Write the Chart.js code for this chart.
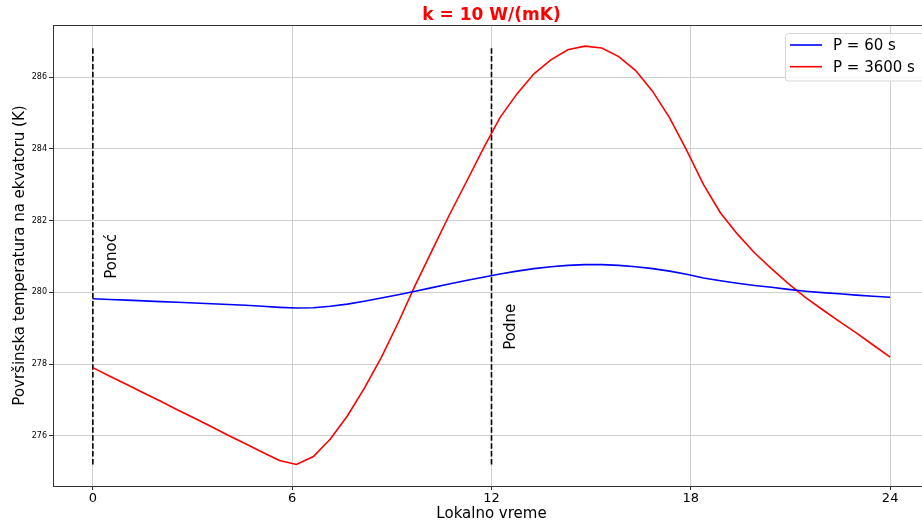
<!DOCTYPE html>
<html>
<head>
<meta charset="utf-8">
<script src="https://cdn.jsdelivr.net/npm/chart.js@4.4.0/dist/chart.umd.min.js"></script>
<style>
  html, body { margin: 0; padding: 0; background: #fff; overflow: hidden; }
  #okvir { position: relative; width: 922px; height: 524px; overflow: hidden; }
  #grafik { position: absolute; left: 0; top: 0; }
</style>
</head>
<body>
<div id="okvir"><canvas id="grafik" width="940" height="524"></canvas></div>
<script>
// vreme (h) - 48 tacaka od ponoci do ponoci
var sati = [0, 0.511, 1.021, 1.532, 2.043, 2.553, 3.064, 3.574, 4.085, 4.596, 5.106, 5.617,
  6.128, 6.638, 7.149, 7.66, 8.17, 8.681, 9.191, 9.702, 10.213, 10.723, 11.234, 11.745,
  12.255, 12.766, 13.277, 13.787, 14.298, 14.809, 15.319, 15.83, 16.34, 16.851, 17.362, 17.872,
  18.383, 18.894, 19.404, 19.915, 20.426, 20.936, 21.447, 21.957, 22.468, 22.979, 23.489, 24];

// temperatura (K) za P = 60 s
var temp60 = [279.82, 279.80, 279.78, 279.76, 279.74, 279.72, 279.70, 279.68, 279.66, 279.64, 279.61, 279.58,
  279.56, 279.57, 279.61, 279.67, 279.75, 279.84, 279.93, 280.03, 280.13, 280.23, 280.33, 280.42,
  280.51, 280.59, 280.66, 280.71, 280.75, 280.77, 280.77, 280.75, 280.71, 280.66, 280.59, 280.50,
  280.40, 280.32, 280.25, 280.19, 280.14, 280.08, 280.03, 279.99, 279.96, 279.92, 279.89, 279.86];

// temperatura (K) za P = 3600 s
var temp3600 = [277.90, 277.66, 277.43, 277.19, 276.96, 276.72, 276.49, 276.25, 276.01, 275.78, 275.54, 275.31,
  275.20, 275.42, 275.91, 276.55, 277.32, 278.18, 279.15, 280.19, 281.17, 282.14, 283.06, 283.99,
  284.87, 285.53, 286.09, 286.48, 286.76, 286.86, 286.81, 286.57, 286.18, 285.60, 284.86, 283.96,
  283.00, 282.21, 281.62, 281.10, 280.66, 280.24, 279.86, 279.52, 279.19, 278.87, 278.53, 278.19];

var serije = ['P = 60 s', 'P = 3600 s'];
var tickX = [0, 6, 12, 18, 24];
var tickY = [276, 278, 280, 282, 284, 286];
var vertikale = [0, 12];
var oznake = ['Ponoć', 'Podne'];
var naslov = 'k = 10 W/(mK)';

var FONT = "'DejaVu Sans', sans-serif";

function tacke(niz) {
  return sati.map(function(t, i) { return {x: t, y: niz[i]}; });
}

var donja = Math.min.apply(null, temp3600);
var gornja = Math.max.apply(null, temp3600);

var datasets = [
  {label: serije[0], data: tacke(temp60), borderColor: '#0000ff', borderWidth: 1.6},
  {label: serije[1], data: tacke(temp3600), borderColor: '#ff0000', borderWidth: 1.6}
];
vertikale.forEach(function(v) {
  datasets.push({
    label: '', data: [{x: v, y: donja}, {x: v, y: gornja}],
    borderColor: '#000', borderWidth: 1.6, borderDash: [5.5, 2.4]
  });
});

// natpisi, naslov, okvir i legenda
var dodaci = {
  id: 'dodaci',
  afterDatasetsDraw: function(chart) {
    var ctx = chart.ctx, sx = chart.scales.x, sy = chart.scales.y;
    var mesta = [[0.7, 280.38], [12.7, 278.4]];
    ctx.save();
    ctx.font = '15px ' + FONT;
    ctx.fillStyle = '#000';
    ctx.textAlign = 'left';
    ctx.textBaseline = 'alphabetic';
    oznake.forEach(function(txt, i) {
      ctx.save();
      ctx.translate(sx.getPixelForValue(mesta[i][0]), sy.getPixelForValue(mesta[i][1]));
      ctx.rotate(-Math.PI / 2);
      ctx.fillText(txt, 0, 0);
      ctx.restore();
    });
    ctx.restore();
  },
  afterDraw: function(chart) {
    var ctx = chart.ctx, a = chart.chartArea;
    ctx.save();
    // gornja ivica
    ctx.strokeStyle = '#333';
    ctx.lineWidth = 1;
    ctx.beginPath();
    ctx.moveTo(a.left, a.top + 0.5);
    ctx.lineTo(a.right, a.top + 0.5);
    ctx.stroke();
    // naslov
    ctx.fillStyle = '#ff0000';
    ctx.font = 'bold 17px ' + FONT;
    ctx.textAlign = 'center';
    ctx.textBaseline = 'alphabetic';
    ctx.fillText(naslov, (a.left + a.right) / 2, 20);
    // legenda
    var bx = 785.5, by = 33.5, bw = 150, bh = 47.5, r = 3;
    ctx.fillStyle = 'rgba(255,255,255,0.8)';
    ctx.strokeStyle = '#d6d6d6';
    ctx.beginPath();
    ctx.moveTo(bx + r, by);
    ctx.lineTo(bx + bw - r, by);
    ctx.arcTo(bx + bw, by, bx + bw, by + r, r);
    ctx.lineTo(bx + bw, by + bh - r);
    ctx.arcTo(bx + bw, by + bh, bx + bw - r, by + bh, r);
    ctx.lineTo(bx + r, by + bh);
    ctx.arcTo(bx, by + bh, bx, by + bh - r, r);
    ctx.lineTo(bx, by + r);
    ctx.arcTo(bx, by, bx + r, by, r);
    ctx.closePath();
    ctx.fill();
    ctx.stroke();
    ctx.font = '15px ' + FONT;
    ctx.textAlign = 'left';
    ctx.textBaseline = 'middle';
    for (var i = 0; i < serije.length; i++) {
      var yy = 45 + i * 21.7;
      ctx.strokeStyle = datasets[i].borderColor;
      ctx.lineWidth = 1.6;
      ctx.beginPath();
      ctx.moveTo(790, yy);
      ctx.lineTo(822, yy);
      ctx.stroke();
      ctx.fillStyle = '#000';
      ctx.fillText(serije[i], 833, yy + 1);
    }
    ctx.restore();
  }
};

var mreza = {color: '#cfcfcf', lineWidth: 1, tickLength: 4, tickColor: '#333'};

new Chart(document.getElementById('grafik'), {
  type: 'line',
  data: {datasets: datasets},
  plugins: [dodaci],
  options: {
    responsive: false,
    animation: false,
    layout: {padding: {left: 0, right: 10, top: 25, bottom: 0}},
    elements: {point: {radius: 0}, line: {tension: 0, fill: false}},
    plugins: {legend: {display: false}, title: {display: false}, tooltip: {enabled: false}},
    scales: {
      x: {
        type: 'linear', min: -1.2, max: 25.2,
        afterFit: function(s) { s.height = 38; },
        afterBuildTicks: function(s) { s.ticks = tickX.map(function(v) { return {value: v}; }); },
        grid: mreza,
        border: {color: '#333', width: 1},
        ticks: {font: {family: FONT, size: 13}, color: '#000', padding: 1, maxRotation: 0},
        title: {display: true, text: 'Lokalno vreme', color: '#000',
                font: {family: FONT, size: 15}, padding: {top: 0, bottom: 1}}
      },
      y: {
        type: 'linear', min: 274.6, max: 287.45,
        afterFit: function(s) { s.width = 53; },
        afterBuildTicks: function(s) { s.ticks = tickY.map(function(v) { return {value: v}; }); },
        grid: mreza,
        border: {color: '#333', width: 1},
        ticks: {font: {family: FONT, size: 8}, color: '#000', padding: 2},
        title: {display: true, text: 'Površinska temperatura na ekvatoru (K)', color: '#000',
                font: {family: FONT, size: 15}, padding: {top: 11, bottom: 0}}
      }
    }
  }
});
</script>
</body>
</html>
